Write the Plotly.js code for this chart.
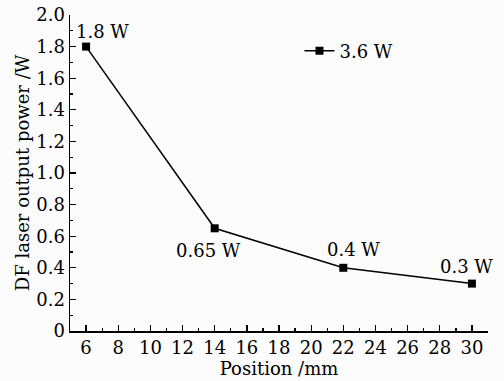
<!DOCTYPE html>
<html>
<head>
<meta charset="utf-8">
<script src="https://cdn.plot.ly/plotly-3.0.1.min.js"></script>
<style>html,body{margin:0;padding:0;background:#fcfcfc;}#chart{width:504px;height:381px;}</style>
</head>
<body>
<div id="chart"></div>
<script>
const positions = [6, 14, 22, 30];
const power = [1.8, 0.65, 0.4, 0.3];
const pointLabels = ["1.8 W", "0.65 W", "0.4 W", "0.3 W"];
const seriesName = "3.6 W";
const labelShiftX = [16, -6, 10, -5];
const labelShiftY = [15, -22, 18, 17];

const FONT = "DejaVu Serif";
const FS = 18;

const trace = {
  x: positions, y: power, type: "scatter", mode: "lines+markers", name: seriesName,
  line: {color: "#000", width: 1.5},
  marker: {symbol: "square", size: 8, color: "#000"}
};

const annotations = positions.map((p, i) => ({
  x: p, y: power[i], xref: "x", yref: "y", text: pointLabels[i], showarrow: false,
  xshift: labelShiftX[i], yshift: labelShiftY[i],
  font: {family: FONT, size: FS, color: "#000"}
}));

const layout = {
  width: 504, height: 381,
  margin: {l: 70, r: 16, t: 15, b: 50},
  paper_bgcolor: "#fcfcfc", plot_bgcolor: "#fcfcfc",
  font: {family: FONT, size: FS, color: "#000"},
  showlegend: true,
  legend: {x: 0.549, y: 0.886, xanchor: "left", yanchor: "middle", bgcolor: "rgba(0,0,0,0)",
           font: {family: FONT, size: FS}},
  xaxis: {
    range: [5, 31], tickmode: "linear", tick0: 6, dtick: 2,
    ticks: "inside", ticklen: 6, tickwidth: 1.3, tickcolor: "#000",
    minor: {dtick: 1, ticks: "inside", ticklen: 3, tickwidth: 1.3, tickcolor: "#000"},
    showline: true, linecolor: "#000", linewidth: 1.5, showgrid: false, zeroline: false,
    title: {text: "Position /mm", font: {family: FONT, size: FS}, standoff: 0}
  },
  yaxis: {
    range: [0, 2.0], tickmode: "linear", tick0: 0, dtick: 0.2,
    tickformat: ".1f",
    ticks: "inside", ticklen: 6, tickwidth: 1.3, tickcolor: "#000",
    minor: {dtick: 0.1, ticks: "inside", ticklen: 3, tickwidth: 1.3, tickcolor: "#000"},
    showline: true, linecolor: "#000", linewidth: 1.5, showgrid: false, zeroline: false,
    title: {text: "DF laser output power /W", font: {family: FONT, size: FS}, standoff: 2}
  },
  annotations: annotations
};

Plotly.newPlot("chart", [trace], layout, {displayModeBar: false, staticPlot: true}).then(() => {
  document.querySelectorAll(".ytick text").forEach(t => { if (t.textContent === "0.0") t.textContent = "0"; });
});
</script>
</body>
</html>
